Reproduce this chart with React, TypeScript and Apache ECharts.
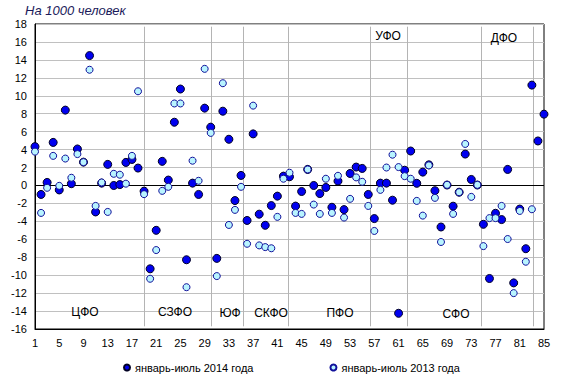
import React, { useEffect, useRef } from "react";
import * as echarts from "echarts";

const regionIndex: number[] = Array.from({ length: 85 }, (_, i) => i + 1);

const values2014: number[] = [
  4.33, -1.0, 0.34, 4.8, -0.5, 8.4, 0.2, 4.07, 2.6, 14.48,
  -2.95, 0.26, 2.35, 0.0, 0.1, 2.57, 2.9, 1.94, -0.63, -9.29,
  -5.0, 2.69, 0.6, 7.05, 10.75, -8.28, 0.26, -1.0, 8.62, 6.5,
  -8.13, 8.28, 5.15, -1.68, 1.12, -3.9, 5.75, -3.2, -4.44, -2.24,
  -1.19, 1.04, 0.97, -2.3, -0.67, 1.79, 0.0, -0.9, -0.22, -2.43,
  0.49, -2.69, 1.34, 2.05, 1.9, -1.0, -3.69, 0.26, 0.26, -1.64,
  -14.25, 1.7, 3.84, 0.24, 1.49, 2.3, -0.58, -4.63, 0.05, -2.31,
  -0.75, 3.5, 0.67, 0.05, -4.33, -10.37, -3.1, -3.8, 1.79, -10.86,
  -2.63, -7.05, 11.19, 4.96, 7.95,
];

const values2013: number[] = [
  3.77, -3.06, -0.26, 3.3, -0.04, 3.0, 0.86, 3.5, 2.6, 12.9,
  -2.28, 0.34, -2.95, 1.3, 1.2, 0.2, 3.3, 10.5, -0.97, -10.4,
  -7.2, -0.6, -0.15, 9.14, 9.14, -11.34, 2.76, 0.52, 13.0, 5.86,
  -10.1, 11.4, -4.4, -2.72, -0.15, -6.5, 8.9, -6.68, -6.87, -7.0,
  -3.5, 0.75, 1.42, -3.06, -3.17, 1.79, -2.13, -3.17, 0.75, -3.06,
  1.08, -3.58, -1.49, 0.9, 0.41, -2.28, -5.07, -0.49, 2.0, 3.43,
  2.05, 1.04, 0.75, -1.72, -3.36, 2.24, -1.38, -6.3, 0.07, -3.17,
  -0.75, 4.63, -1.27, 0.07, -6.76, -3.64, -3.64, -2.28, -5.97, -12.0,
  -2.84, -8.5, -2.65,
];

const districtDividers: number[] = [19, 30.15, 35.3, 42.8, 56.4, 62.4, 74.7, 83.2];

const districtNames: string[] = ["ЦФО", "СЗФО", "ЮФ", "СКФО", "ПФО", "УФО", "СФО", "ДФО"];

const seriesNames: string[] = ["январь-июль 2014 года", "январь-июль 2013 года"];

const FONT = "'Liberation Sans', Arial, sans-serif";

export default function App() {
  const ref = useRef<HTMLDivElement>(null);

  useEffect(() => {
    if (!ref.current) return;
    document.body.style.margin = "0";
    const chart = echarts.init(ref.current, undefined, { renderer: "svg" });

    const labelPos: [number, number][] = [
      [85, 312], [175, 312], [230, 313], [271, 313], [340, 313], [388, 36], [456, 314], [504, 38],
    ];

    const data2014 = values2014.map((v, i) => [regionIndex[i], v]);
    const data2013 = values2013.map((v, i) => [regionIndex[i], v]);

    const dividerLines: any[] = districtDividers.map((x) => [
      { coord: [x, 17.7], lineStyle: { color: "#b4b4b4", width: 1, type: "solid" } },
      { coord: [x, -15.7] },
    ]);

    chart.setOption({
      animation: false,
      textStyle: { fontFamily: FONT },
      grid: {
        left: 35,
        right: 17,
        top: 24,
        bottom: 58,
        show: true,
        borderColor: "#000",
        borderWidth: 1,
        backgroundColor: "transparent",
      },
      xAxis: {
        type: "value",
        min: 1,
        max: 85,
        interval: 4,
        axisLine: { show: true, onZero: false, lineStyle: { color: "#000", width: 1 } },
        axisTick: { show: false },
        splitLine: { show: false },
        axisLabel: { color: "#000", fontSize: 11, margin: 8, fontFamily: FONT },
      },
      yAxis: {
        type: "value",
        min: -16,
        max: 18,
        interval: 2,
        axisLine: { show: true, lineStyle: { color: "#000", width: 1 } },
        axisTick: { show: false },
        splitLine: { show: true, lineStyle: { color: "#c0c0c0", width: 1 } },
        axisLabel: { color: "#000", fontSize: 11, margin: 8, fontFamily: FONT },
      },
      legend: {
        left: 118,
        top: 357,
        itemWidth: 6,
        itemHeight: 6,
        itemGap: 76,
        icon: "circle",
        textStyle: { color: "#000", fontSize: 11, fontFamily: FONT },
        data: seriesNames,
      },
      series: [
        {
          name: seriesNames[0],
          type: "scatter",
          symbol: "circle",
          symbolSize: 8,
          z: 3,
          itemStyle: { color: "#0000f0", borderColor: "#000022", borderWidth: 1, opacity: 1 },
          data: data2014,
          markLine: {
            silent: true,
            symbol: "none",
            z: 1,
            label: { show: false },
            data: [
              ...dividerLines,
              { yAxis: 0, lineStyle: { color: "#000", width: 1, type: "solid" } },
            ],
          },
        },
        {
          name: seriesNames[1],
          type: "scatter",
          symbol: "circle",
          symbolSize: 7,
          z: 4,
          itemStyle: { color: "#b8f4ff", borderColor: "#10109a", borderWidth: 1, opacity: 1 },
          data: data2013,
        },
      ],
      graphic: [
        {
          type: "text",
          left: 25,
          top: 4,
          style: {
            text: "На 1000 человек",
            fill: "#1a1a5a",
            font: `italic 13px ${FONT}`,
          },
        },
        ...districtNames.map((name, i) => ({
          type: "text",
          x: labelPos[i][0],
          y: labelPos[i][1],
          z: 10,
          style: {
            text: name,
            fill: "#000",
            font: `12px ${FONT}`,
            align: "center",
            verticalAlign: "middle",
          },
        })),
      ],
    });

    return () => chart.dispose();
  }, []);

  return <div ref={ref} style={{ width: 561, height: 387 }} />;
}
